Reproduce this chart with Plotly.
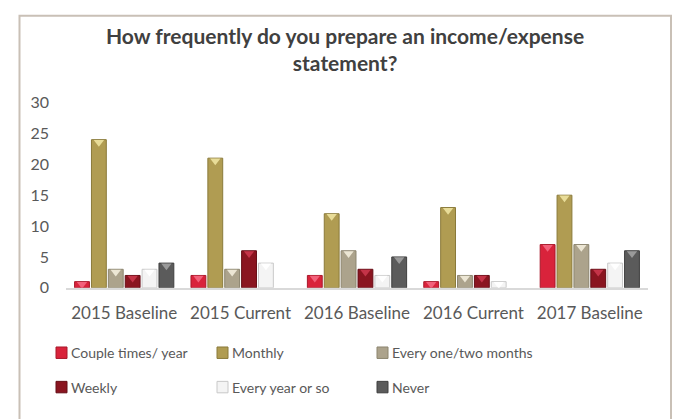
import plotly.graph_objects as go

# Survey waves along the x axis
categories = ["2015 Baseline", "2015 Current", "2016 Baseline", "2016 Current", "2017 Baseline"]

# Responses per frequency option, one list per series
couple_times_year = [1, 2, 2, 1, 7]
monthly = [24, 21, 12, 13, 15]
every_one_two_months = [3, 3, 6, 2, 7]
weekly = [2, 6, 3, 2, 3]
every_year_or_so = [3, 4, 2, 1, 4]
never = [4, 0, 5, 0, 6]

series_names = ["Couple times/ year", "Monthly", "Every one/two months",
                "Weekly", "Every year or so", "Never"]
series_values = [couple_times_year, monthly, every_one_two_months,
                 weekly, every_year_or_so, never]
fill_colors = ["#d9233b", "#b09c52", "#aca38c", "#8a1520", "#f4f4f4", "#5b5b5b"]
edge_colors = ["#a8182a", "#8a7a3a", "#8c856f", "#650e16", "#c8c8c8", "#3f3f3f"]
bevel_colors = ["#f2617a", "#e8dc98", "#ece6d4", "#c43448", "#ffffff", "#9a9a9a"]

y_ticks = [0, 5, 10, 15, 20, 25, 30]

W, H = 673, 419
text_color = "#595959"
font_family = "Lato, 'Open Sans', sans-serif"

# Plot area placement in pixels
x_left, x_right = 66, 648
y_top, y_bottom = 97, 291
y_max = 30
px_per_unit = (y_bottom - y_top) / y_max

bargap, bargroupgap = 0.13, 0.12
n_series = len(series_names)
slot = (1 - bargap) / n_series
x_idx = list(range(len(categories)))

fig = go.Figure()
for name, vals, fc, ec in zip(series_names, series_values, fill_colors, edge_colors):
    fig.add_trace(go.Bar(
        x=x_idx, y=vals, name=name,
        marker=dict(color=fc,
                    line=dict(color=ec, width=[1 if v > 0 else 0 for v in vals])),
        showlegend=False, hoverinfo="y+name",
    ))

# Bevelled caps on top of each non-zero bar
cap_size = 9
cap_drop = (cap_size / 4 + 0.5) / px_per_unit
for i, (vals, bc) in enumerate(zip(series_values, bevel_colors)):
    offset = -(1 - bargap) / 2 + slot * (i + 0.5)
    fig.add_trace(go.Scatter(
        x=[j + offset for j in x_idx],
        y=[v - cap_drop if v > 0 else None for v in vals],
        mode="markers",
        marker=dict(symbol="triangle-down", size=cap_size, color=bc,
                    line=dict(width=0)),
        showlegend=False, hoverinfo="skip",
    ))

fig.update_layout(
    width=W, height=H,
    margin=dict(l=0, r=0, t=0, b=0),
    paper_bgcolor="white", plot_bgcolor="white",
    barmode="group", bargap=bargap, bargroupgap=bargroupgap,
    font=dict(family=font_family, color=text_color, size=15),
    xaxis=dict(
        domain=[x_left / W, x_right / W],
        range=[-0.5, len(categories) - 0.5],
        tickvals=x_idx, ticktext=categories,
        showgrid=False, zeroline=False,
        showline=True, linecolor="#d9d9d9", linewidth=2,
        ticks="", ticklabelstandoff=9,
        tickfont=dict(size=17, color=text_color),
    ),
    yaxis=dict(
        domain=[1 - y_bottom / H, 1 - y_top / H],
        range=[0, y_max], tickvals=y_ticks,
        showgrid=False, zeroline=False, showline=False,
        ticks="", ticklabelstandoff=16,
        tickfont=dict(size=16, color=text_color),
    ),
)

# Chart frame (open at the bottom edge)
fig.add_shape(type="rect", xref="paper", yref="paper",
              x0=19.5 / W, x1=671 / W, y0=-0.05, y1=1 - 6 / H,
              line=dict(color="#c9c0b6", width=2), fillcolor="rgba(0,0,0,0)",
              layer="below")

# Title
fig.add_annotation(
    xref="paper", yref="paper", x=345 / W, y=1 - 41 / H,
    text="<b>How frequently do you prepare an income/expense<br>statement?</b>",
    showarrow=False, font=dict(size=21, color="#404040", family=font_family),
    xanchor="center", yanchor="middle", align="center",
)

# Legend: three columns, two rows
col_x = [56, 217, 377]
row_y = [359, 395]
for i, (name, fc, ec) in enumerate(zip(series_names, fill_colors, edge_colors)):
    cx = col_x[i % 3]
    cy = row_y[i // 3]
    fig.add_shape(type="rect", xref="paper", yref="paper",
                  x0=cx / W, x1=(cx + 11) / W,
                  y0=1 - (cy + 6) / H, y1=1 - (cy - 6) / H,
                  fillcolor=fc, line=dict(color=ec, width=1))
    fig.add_annotation(xref="paper", yref="paper", x=(cx + 13) / W, y=1 - cy / H,
                       text=name, showarrow=False, xanchor="left", yanchor="middle",
                       font=dict(size=14, color=text_color, family=font_family))

fig.write_html("out.html")
